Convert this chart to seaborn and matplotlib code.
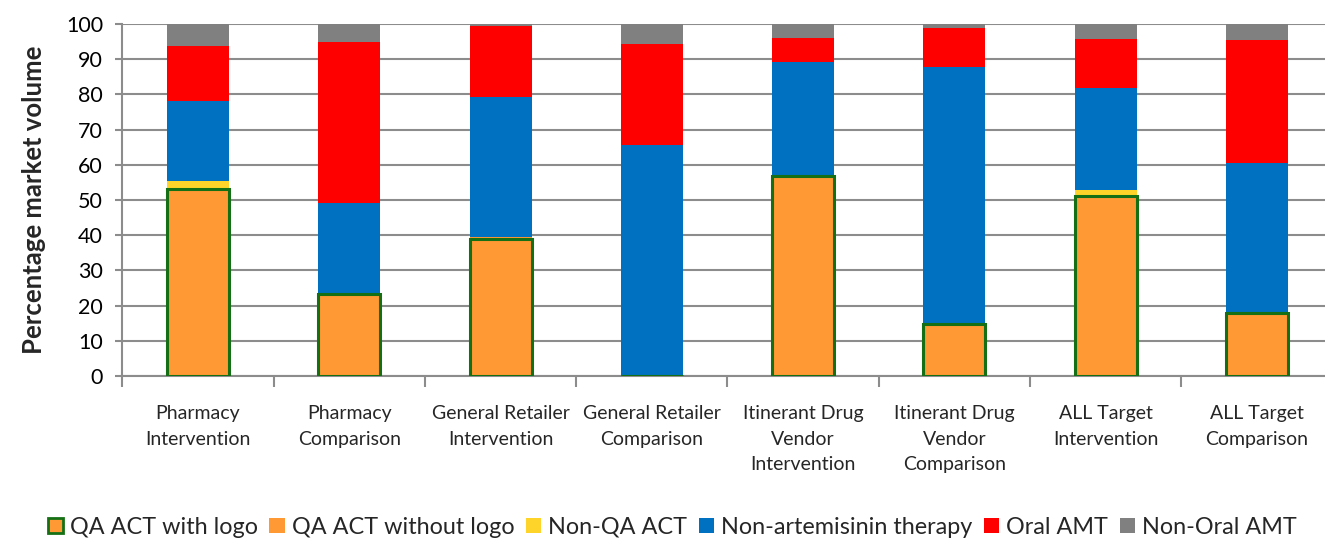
import numpy as np
import pandas as pd
import matplotlib
matplotlib.use("Agg")
import matplotlib.pyplot as plt
from matplotlib.patches import Patch
import seaborn as sns

# Outlet categories (x axis)
categories = [
    "Pharmacy\nIntervention",
    "Pharmacy\nComparison",
    "General Retailer\nIntervention",
    "General Retailer\nComparison",
    "Itinerant Drug\nVendor\nIntervention",
    "Itinerant Drug\nVendor\nComparison",
    "ALL Target\nIntervention",
    "ALL Target\nComparison",
]

# Percentage market volume by product type (stacked bottom to top)
qa_act_with_logo = [53.2, 23.2, 38.9, 0.0, 56.8, 14.9, 51.2, 18.0]
qa_act_without_logo = [0.0, 0.0, 0.5, 0.0, 0.0, 0.0, 0.0, 0.0]
non_qa_act = [2.1, 0.0, 0.0, 0.0, 0.0, 0.0, 1.5, 0.0]
non_artemisinin = [22.8, 25.9, 39.9, 65.6, 32.3, 73.0, 29.0, 42.6]
oral_amt = [15.7, 45.9, 20.2, 28.8, 6.9, 11.1, 14.0, 34.9]
non_oral_amt = [6.2, 5.0, 0.5, 5.6, 4.0, 1.0, 4.3, 4.5]

series_names = ["QA ACT with logo", "QA ACT without logo", "Non-QA ACT",
                "Non-artemisinin therapy", "Oral AMT", "Non-Oral AMT"]
series_values = [qa_act_with_logo, qa_act_without_logo, non_qa_act,
                 non_artemisinin, oral_amt, non_oral_amt]
series_colors = ["#FF9933", "#FF9933", "#FFD42A", "#0070C0", "#FF0000", "#808080"]
logo_edge = "#157015"

sns.set_theme(style="white")
plt.rcParams["font.family"] = ["Lato", "DejaVu Sans"]

fig = plt.figure(figsize=(13.25, 5.42), dpi=100)
ax = fig.add_axes([122.4 / 1325, 1 - 376 / 542, (1332.6 - 122.4) / 1325, (376 - 24) / 542])

# Cumulative tops; draw tallest first so lower layers overlay it
df = pd.DataFrame({"category": categories})
cum = np.cumsum(np.array(series_values), axis=0)
for i in range(len(series_names) - 1, -1, -1):
    df["top"] = cum[i]
    edge = logo_edge if i == 0 else "none"
    lw = 2.2 if i == 0 else 0
    sns.barplot(data=df, x="category", y="top", color=series_colors[i],
                saturation=1, width=0.41, edgecolor=edge, linewidth=lw,
                ax=ax, zorder=3, errorbar=None)

ax.set_ylim(0, 100)
ax.set_xlim(-0.5, len(categories) - 0.5)
ax.set_yticks(np.arange(0, 101, 10))
ax.yaxis.grid(True, color="#8C8C8C", linewidth=1.5, zorder=0)
ax.set_axisbelow(True)

for side in ["top", "right"]:
    ax.spines[side].set_visible(False)
for side in ["left", "bottom"]:
    ax.spines[side].set_color("#8C8C8C")
    ax.spines[side].set_linewidth(1.5)

ax.tick_params(axis="y", left=True, length=5, width=1.5, color="#8C8C8C",
               labelsize=15.5, labelcolor="black", pad=9)
ax.set_xticks(range(len(categories)))
ax.set_xticklabels(categories, fontsize=14, linespacing=1.6, va="top")
ax.tick_params(axis="x", bottom=False, pad=15)
ax.set_xticks(np.arange(-0.5, len(categories), 1.0), minor=True)
ax.tick_params(axis="x", which="minor", bottom=True, length=8, width=1.5,
               color="#8C8C8C")
ax.set_xlabel("")
ax.set_ylabel("Percentage market volume", fontsize=18.5, fontweight="bold",
              labelpad=14)

handles = []
for i, name in enumerate(series_names):
    if i == 0:
        handles.append(Patch(facecolor=series_colors[i], edgecolor=logo_edge,
                             linewidth=2, label=name))
    else:
        handles.append(Patch(facecolor=series_colors[i], edgecolor="none",
                             label=name))
fig.legend(handles=handles, loc="center", bbox_to_anchor=(672 / 1325, 1 - 527 / 542),
           ncol=6, frameon=False, fontsize=16.8, handlelength=0.65, handleheight=0.65,
           handletextpad=0.3, columnspacing=0.5)

fig.savefig("out.png", dpi=100)
